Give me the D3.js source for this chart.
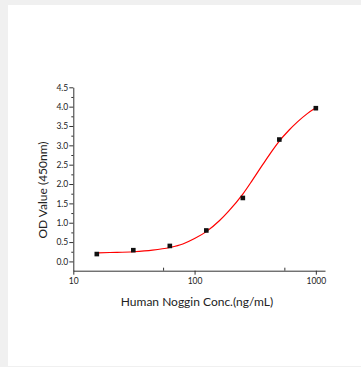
<!DOCTYPE html>
<html>
<head>
<meta charset="utf-8">
<script src="https://cdn.jsdelivr.net/npm/d3@7"></script>
<style>
  body { margin: 0; background: #f0f0f0; }
  text { font-family: Lato, "Open Sans", sans-serif; fill: #222; }
</style>
</head>
<body>
<main></main>
<script>
// measured points
const conc = [15.625, 31.25, 62.5, 125, 250, 500, 1000];
const od = [0.19, 0.29, 0.40, 0.80, 1.64, 3.15, 3.96];
// fitted curve
const fitConc = [15.6, 20, 31.25, 45, 62.5, 80, 100, 125, 160, 191, 250, 300, 361, 423, 500, 600, 702, 850, 1000];
const fitOd = [0.22, 0.23, 0.25, 0.29, 0.36, 0.45, 0.59, 0.77, 1.05, 1.30, 1.74, 2.10, 2.48, 2.80, 3.11, 3.39, 3.60, 3.82, 3.97];
const yTicks = [0, 0.5, 1, 1.5, 2, 2.5, 3, 3.5, 4, 4.5];
const yMinor = [0.25, 0.75, 1.25, 1.75, 2.25, 2.75, 3.25, 3.75, 4.25];
const xTicks = [10, 100, 1000];
const xMinor = [55, 550];

const w = 361;
const h = 367;
const svg = d3.select('main').append('svg').attr('width', w).attr('height', h).style('display', 'block');

svg.append('rect').attr('x', 8).attr('y', 5).attr('width', 353).attr('height', 361).attr('fill', '#fff');

const x = d3.scaleLog().domain([10, 1190]).range([73.3, 325]);
const y = d3.scaleLinear().domain([-0.24, 4.5]).range([270.7, 87.3]);

const yAxis = svg.append('g')
    .attr('transform', 'translate(73.3,0)')
    .call(d3.axisLeft(y).tickValues(yTicks).tickFormat(d3.format('.1f')).tickSize(4).tickSizeOuter(0));
svg.append('g')
    .attr('transform', 'translate(73.3,0)')
    .call(d3.axisLeft(y).tickValues(yMinor).tickFormat('').tickSize(2).tickSizeOuter(0))
    .select('.domain').remove();

const xAxis = svg.append('g')
    .attr('transform', 'translate(0,270.7)')
    .call(d3.axisBottom(x).tickValues(xTicks).tickFormat(d3.format('d')).tickSize(4).tickSizeOuter(0));
svg.append('g')
    .attr('transform', 'translate(0,270.7)')
    .call(d3.axisTop(x).tickValues(xMinor).tickFormat('').tickSize(3).tickSizeOuter(0))
    .select('.domain').remove();

svg.selectAll('.domain').attr('stroke', '#333');
svg.selectAll('.tick line').attr('stroke', '#333');
svg.selectAll('.tick text').style('font-size', '8.5px').style('font-family', 'Lato, sans-serif').attr('fill', '#222');
yAxis.selectAll('.tick text').attr('x', -5);

const line = d3.line()
    .x((d, i) => x(fitConc[i]))
    .y(d => y(d))
    .curve(d3.curveMonotoneX);
svg.append('path')
    .datum(fitOd)
    .attr('d', line)
    .attr('fill', 'none')
    .attr('stroke', '#f00')
    .attr('stroke-width', 1.2);

svg.append('g')
    .selectAll('rect')
    .data(od)
    .enter()
    .append('rect')
    .attr('x', (d, i) => x(conc[i]) - 2.3)
    .attr('y', d => y(d) - 2.3)
    .attr('width', 4.6)
    .attr('height', 4.6)
    .attr('fill', '#111');

svg.append('text')
    .attr('x', 197)
    .attr('y', 306)
    .attr('text-anchor', 'middle')
    .style('font-size', '12px')
    .text('Human Noggin Conc.(ng/mL)');

svg.append('text')
    .attr('transform', 'translate(47,190) rotate(-90)')
    .attr('text-anchor', 'middle')
    .style('font-size', '12px')
    .text('OD Value (450nm)');
</script>
</body>
</html>
